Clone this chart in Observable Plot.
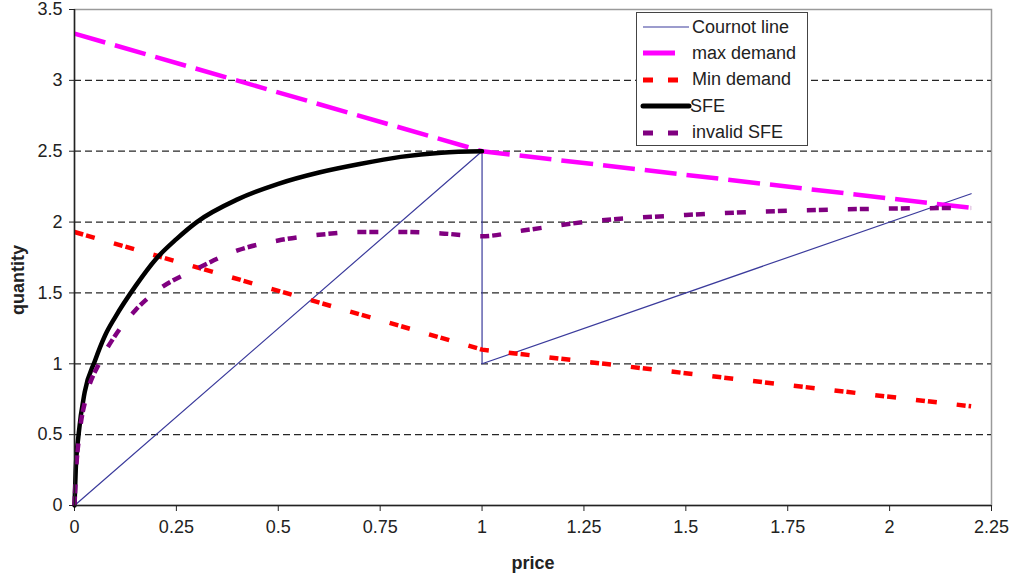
<!DOCTYPE html>
<html><head><meta charset="utf-8">
<script src="https://cdn.jsdelivr.net/npm/d3@7"></script>
<script src="https://cdn.jsdelivr.net/npm/@observablehq/plot@0.6"></script>
<style>
body{margin:0;background:#fff;font-family:"Liberation Sans",Arial,sans-serif}
#wrap{position:relative;width:1012px;height:579px}
#legend{position:absolute;left:636px;top:12px;width:172px;height:134px;border:1px solid #444;background:#fff;box-sizing:border-box;font-size:18px;color:#222}
.row{position:absolute;left:0;height:26px;display:flex;align-items:center}
.row svg{display:block}
</style></head><body><div id="wrap"></div>
<script>
// Data
const xTicks = [0, 0.25, 0.5, 0.75, 1, 1.25, 1.5, 1.75, 2, 2.25];
const yTicks = [0, 0.5, 1, 1.5, 2, 2.5, 3, 3.5];
const gridLevels = [0.5, 1, 1.5, 2, 2.5, 3];

const cournotP = [0, 1, 1, 2.2];
const cournotQ = [0, 2.5, 1, 2.2];

const maxDemandP = [0, 1, 2.2];
const maxDemandQ = [3.33, 2.5, 2.1];

const minDemandP = [0, 1, 2.2];
const minDemandQ = [1.93, 1.1, 0.7];

const sfeP = [0, 0.003, 0.01, 0.025, 0.05, 0.075, 0.1, 0.15, 0.2, 0.25, 0.3, 0.4, 0.5, 0.6, 0.7, 0.8, 0.9, 1.0];
const sfeQ = [0, 0.25, 0.5, 0.8, 1.02, 1.2, 1.33, 1.55, 1.74, 1.88, 2.0, 2.16, 2.27, 2.35, 2.41, 2.46, 2.49, 2.5];

const invalidP = [0, 0.004, 0.012, 0.03, 0.06, 0.1, 0.15, 0.2, 0.3, 0.4, 0.5, 0.6, 0.7, 0.8, 0.9, 1.0, 1.1, 1.25, 1.5, 1.75, 2.0, 2.2];
const invalidQ = [0, 0.25, 0.5, 0.78, 1.0, 1.2, 1.38, 1.51, 1.67, 1.8, 1.87, 1.91, 1.93, 1.93, 1.92, 1.9, 1.94, 2.0, 2.05, 2.08, 2.095, 2.1];

const seriesNames = ["Cournot line", "max demand", "Min demand", "SFE", "invalid SFE"];
const seriesColors = ["#3b3b9c", "#ff00ff", "#ff0000", "#000000", "#800080"];

const toRows = (P, Q) => P.map((p, i) => ({p, q: Q[i]}));
const squareDot = "9,3,9,20";

const chart = Plot.plot({
  width: 1012, height: 579,
  marginLeft: 74, marginRight: 21, marginTop: 9, marginBottom: 74,
  style: {fontFamily: "Liberation Sans, Arial, sans-serif", fontSize: "18px", color: "#222", background: "#fff"},
  x: {domain: [0, 2.25]},
  y: {domain: [0, 3.5]},
  marks: [
    Plot.frame({stroke: "#9a9a9a", strokeWidth: 1.5}),
    Plot.ruleY(gridLevels, {stroke: "#000", strokeWidth: 1.2, strokeDasharray: "7,4", strokeOpacity: 0.85}),
    Plot.axisX({ticks: xTicks, tickFormat: d => String(d), tickSize: 6, tickPadding: 9, label: null, stroke: "#222"}),
    Plot.axisY({ticks: yTicks, tickFormat: d => String(d), tickSize: 5, tickPadding: 7, label: null, stroke: "#222"}),
    Plot.line(toRows(cournotP, cournotQ), {x: "p", y: "q", stroke: seriesColors[0], strokeWidth: 1.2}),
    Plot.line(toRows(maxDemandP, maxDemandQ), {x: "p", y: "q", stroke: seriesColors[1], strokeWidth: 4.5, strokeDasharray: "32,10", strokeLinecap: "butt"}),
    Plot.line(toRows(minDemandP, minDemandQ), {x: "p", y: "q", stroke: seriesColors[2], strokeWidth: 4.5, strokeDasharray: squareDot, strokeLinecap: "butt"}),
    Plot.line(toRows(sfeP, sfeQ), {x: "p", y: "q", stroke: seriesColors[3], strokeWidth: 4.5, curve: "monotone-x"}),
    Plot.line(toRows(invalidP, invalidQ), {x: "p", y: "q", stroke: seriesColors[4], strokeWidth: 4.5, strokeDasharray: squareDot, strokeLinecap: "butt", curve: "monotone-x"}),
    Plot.ruleX([0], {stroke: "#222", strokeWidth: 1.5}),
    Plot.ruleY([0], {stroke: "#222", strokeWidth: 1.5}),
    Plot.text(["price"], {frameAnchor: "bottom", dy: 63, fontWeight: "bold", fontSize: 18, fill: "#222"})
  ]
});
const wrap = document.getElementById("wrap");
wrap.appendChild(chart);

// y-axis title
d3.select(chart).append("text")
  .attr("transform", "translate(19,280) rotate(-90)")
  .attr("text-anchor", "middle").attr("dominant-baseline", "middle")
  .attr("font-weight", "bold").attr("font-size", 18).attr("fill", "#222")
  .attr("font-family", "Liberation Sans, Arial, sans-serif")
  .text("quantity");

// Legend
const legend = document.createElement("div");
legend.id = "legend";
wrap.appendChild(legend);
const samples = [
  {w: 1.2, dash: null, len: 46},
  {w: 5, dash: null, len: 32},
  {w: 5, dash: "10,15", len: 46},
  {w: 5, dash: null, len: 46, cap: "round"},
  {w: 5, dash: "10,15", len: 46}
];
seriesNames.forEach((name, i) => {
  const row = document.createElement("div");
  row.className = "row";
  row.style.top = (i * 26.4 + 1) + "px";
  const s = samples[i];
  const svg = d3.create("svg").attr("width", 55).attr("height", 26);
  svg.append("line").attr("x1", 6).attr("x2", 6 + s.len).attr("y1", 13).attr("y2", 13)
    .attr("stroke", seriesColors[i]).attr("stroke-width", s.w)
    .attr("stroke-dasharray", s.dash).attr("stroke-linecap", s.cap || "butt");
  row.appendChild(svg.node());
  const span = document.createElement("span");
  span.textContent = name;
  span.style.marginLeft = (i === 3 ? "-2px" : "0px");
  row.appendChild(span);
  legend.appendChild(row);
});
</script>
</body></html>
